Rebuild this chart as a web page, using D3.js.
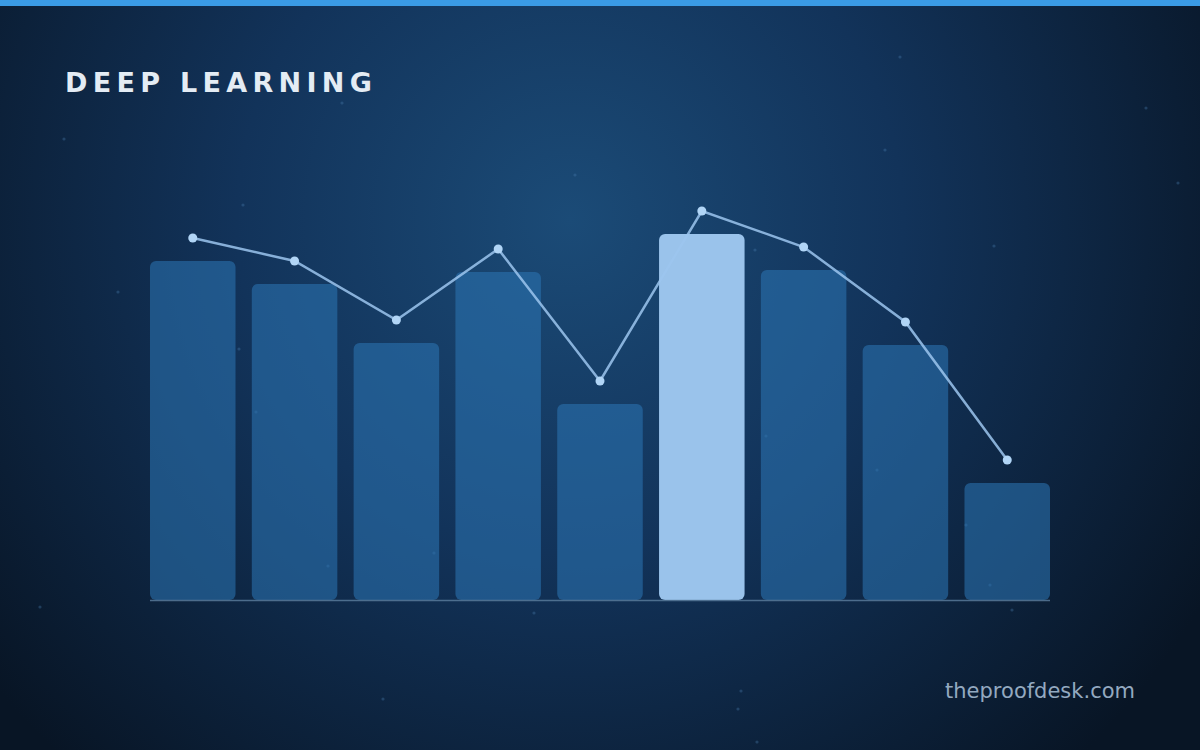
<!DOCTYPE html>
<html>
<head>
<meta charset="utf-8">
<title>Deep Learning</title>
<script src="https://d3js.org/d3.v7.min.js"></script>
<style>
	html, body { margin: 0; padding: 0; background: #0a1829; }
	svg { display: block; }
	text { font-family: 'DejaVu Sans', sans-serif; }
</style>
</head>
<body>
<script>
// chart data
var categories = ["1", "2", "3", "4", "5", "6", "7", "8", "9"];
var values = [339, 316, 257, 328, 196, 366, 330, 255, 117];
var highlight = 5;   // index of the bright bar

// faint background specks
var specks = [[900,57],[342,103],[64,139],[575,175],[885,150],[243,205],[118,292],[239,349],
	[256,412],[1178,183],[1146,108],[994,246],[766,436],[877,470],[966,525],[328,566],[534,613],
	[40,607],[990,585],[741,691],[383,699],[738,709],[757,742],[1012,610],[434,553],[755,250]];

var W = 1200, H = 750;

var svg = d3.select("body").append("svg")
		.attr("width", W)
		.attr("height", H);

var defs = svg.append("defs");
var bg = defs.append("radialGradient")
		.attr("id", "bg")
		.attr("gradientUnits", "userSpaceOnUse")
		.attr("cx", 570).attr("cy", 220).attr("r", 740);
bg.append("stop").attr("offset", "0%").attr("stop-color", "#1b4b77");
bg.append("stop").attr("offset", "45%").attr("stop-color", "#12335a");
bg.append("stop").attr("offset", "100%").attr("stop-color", "#081525");

svg.append("rect")
	.attr("width", W).attr("height", H)
	.attr("fill", "url(#bg)");

svg.selectAll("circle.speck")
	.data(specks)
	.enter().append("circle")
	.attr("class", "speck")
	.attr("cx", function(d) { return d[0]; })
	.attr("cy", function(d) { return d[1]; })
	.attr("r", 1.6)
	.attr("fill", "#4a7fb0")
	.attr("opacity", 0.35);

// top accent strip
svg.append("rect")
	.attr("width", W).attr("height", 6)
	.attr("fill", "#3a9be6");

svg.append("text")
	.attr("x", 65).attr("y", 92)
	.attr("fill", "#e4ecf4")
	.style("font-size", "27px")
	.style("font-weight", "bold")
	.style("letter-spacing", "5.3px")
	.text("DEEP LEARNING");

// scales
var x = d3.scaleBand()
		.domain(categories)
		.range([150, 1050])
		.paddingInner(0.16)
		.paddingOuter(0);

var y = d3.scaleLinear()
		.domain([0, 400])
		.range([600, 200]);

var lineLift = 23;

svg.append("g").selectAll("rect.bar")
	.data(values)
	.enter().append("rect")
	.attr("class", "bar")
	.attr("x", function(d, i) { return x(categories[i]); })
	.attr("y", function(d) { return y(d); })
	.attr("width", x.bandwidth())
	.attr("height", function(d) { return y(0) - y(d); })
	.attr("rx", 6).attr("ry", 6)
	.attr("fill", function(d, i) { return i === highlight ? "#9ac3eb" : "#2b74b2"; })
	.attr("fill-opacity", function(d, i) { return i === highlight ? 1 : 0.58; });

// baseline
svg.append("line")
	.attr("x1", x.range()[0]).attr("x2", x.range()[1])
	.attr("y1", y(0) + 0.5).attr("y2", y(0) + 0.5)
	.attr("stroke", "#5d7f9f")
	.attr("stroke-width", 1.5)
	.attr("opacity", 0.8);

// trend line
var line = d3.line()
		.x(function(d, i) { return x(categories[i]) + x.bandwidth() / 2; })
		.y(function(d) { return y(d) - lineLift; });

svg.append("path")
	.datum(values)
	.attr("d", line)
	.attr("fill", "none")
	.attr("stroke", "#9cc6ee")
	.attr("stroke-opacity", 0.85)
	.attr("stroke-width", 2.5);

svg.append("g").selectAll("circle.pt")
	.data(values)
	.enter().append("circle")
	.attr("class", "pt")
	.attr("cx", function(d, i) { return x(categories[i]) + x.bandwidth() / 2; })
	.attr("cy", function(d) { return y(d) - lineLift; })
	.attr("r", 4.5)
	.attr("fill", "#b1d5f6");

svg.append("text")
	.attr("x", 1135).attr("y", 698)
	.attr("text-anchor", "end")
	.attr("fill", "#93a9c0")
	.style("font-size", "21px")
	.text("theproofdesk.com");
</script>
</body>
</html>
